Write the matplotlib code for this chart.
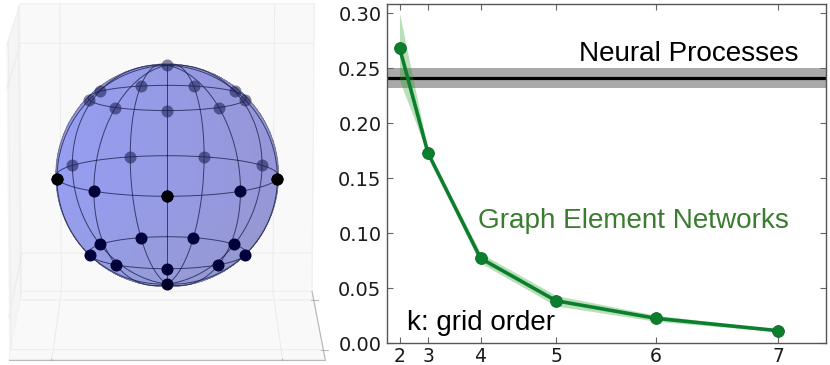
import numpy as np
import matplotlib
matplotlib.use("Agg")
import matplotlib.pyplot as plt
from mpl_toolkits.mplot3d import Axes3D  # noqa

# ---- data: line chart
k_labels = ["2", "3", "4", "5", "6", "7"]
k_positions = [12.5, 41, 93.5, 169, 269, 391]
gen_mean = [0.2688, 0.1730, 0.0773, 0.0387, 0.0227, 0.0115]
gen_low = [0.2390, 0.1715, 0.0730, 0.0340, 0.0200, 0.0105]
gen_high = [0.3000, 0.1750, 0.0820, 0.0435, 0.0255, 0.0125]
np_mean = 0.241
np_low = 0.232
np_high = 0.250
y_ticks = [0.00, 0.05, 0.10, 0.15, 0.20, 0.25, 0.30]

# ---- data: sphere grid
node_lats = [-45, 0, 45]
node_lons = [-160, -120, -80, -40, 0, 40, 80, 120, 160]
pole_lats = [-90, 90]

W, H = 830, 365
fig = plt.figure(figsize=(W / 100, H / 100), dpi=100, facecolor="white")
SANS = "Liberation Sans"
GREEN = "#0b7f2e"


def to_xyz(lat, lon, r=1.0):
    la, lo = np.radians(lat), np.radians(lon)
    # lon 0 faces the viewer (towards -y)
    return r * np.cos(la) * np.sin(lo), -r * np.cos(la) * np.cos(lo), r * np.sin(la)


# ---- left panel, 3D sphere
ELEV, AZIM = 10.5, -90
ax3 = fig.add_axes([-0.0425, -0.095, 0.475, 1.2], projection="3d", computed_zorder=False)
ax3.patch.set_alpha(0)
ax3.view_init(elev=ELEV, azim=AZIM)
ax3.set_proj_type("persp", focal_length=1.6)
ax3.set_box_aspect((1, 1, 1), zoom=1.3)
B = 1.37
ax3.set_xlim(-B, B)
ax3.set_ylim(-B, B)
ax3.set_zlim(-B, B)
ax3.set_xticks([-1, 1])
ax3.set_yticks([-1, 1])
ax3.set_zticks([-1, 1])
ax3.set_xticklabels([])
ax3.set_yticklabels([])
ax3.set_zticklabels([])
ax3.zaxis.set_ticks_position("none")
for axis, col in ((ax3.xaxis, (0.96, 0.96, 0.96, 1)), (ax3.yaxis, (0.975, 0.975, 0.975, 1)), (ax3.zaxis, (0.975, 0.975, 0.975, 1))):
    axis.set_pane_color(col)
    axis.pane.set_edgecolor((0.94, 0.94, 0.94, 1))
    axis.line.set_color("#b8b8b8")
    axis.line.set_linewidth(0.8)
    axis._axinfo["grid"].update(color="#ebebeb", linewidth=0.7)
    axis._axinfo["tick"].update(linewidth={True: 0.5, False: 0.3})
    axis.set_tick_params(color="#999999", width=0.5)

# sphere: only the hemisphere facing the viewer
e = np.radians(ELEV)
view = np.array([0, -np.cos(e), np.sin(e)])
up = np.array([0, np.sin(e), np.cos(e)])
right = np.array([1, 0, 0])
t = np.linspace(0, 2 * np.pi, 121)
a = np.linspace(0, np.pi / 2, 40)
T, A = np.meshgrid(t, a)
SX = np.sin(A) * np.cos(T) * right[0] + np.sin(A) * np.sin(T) * up[0] + np.cos(A) * view[0]
SY = np.sin(A) * np.cos(T) * right[1] + np.sin(A) * np.sin(T) * up[1] + np.cos(A) * view[1]
SZ = np.sin(A) * np.cos(T) * right[2] + np.sin(A) * np.sin(T) * up[2] + np.cos(A) * view[2]
shade = 0.5 * (SX + 1)
fc = np.zeros(SX.shape + (4,))
fc[..., 0] = 0.59
fc[..., 1] = 0.62 - 0.03 * shade
fc[..., 2] = 0.95 - 0.11 * shade - 0.06 * np.clip(-SZ, 0, 1)
fc[..., 3] = 1.0
ax3.plot_surface(SX, SY, SZ, facecolors=fc, rstride=1, cstride=1, linewidth=0, antialiased=False, shade=False, zorder=1)
rim = np.linspace(0, 2 * np.pi, 200)
ax3.plot(np.cos(rim) * right[0] + np.sin(rim) * up[0], np.cos(rim) * right[1] + np.sin(rim) * up[1],
         np.cos(rim) * right[2] + np.sin(rim) * up[2], color="#7a7a98", lw=0.9, zorder=1.5)

all_lat, all_lon = np.meshgrid(node_lats, node_lons, indexing="ij")
all_lat, all_lon = all_lat.ravel(), all_lon.ravel()
is_front = (all_lat < 0) | ((all_lat == 0) & (np.abs(all_lon) <= 80))
bx, by, bz = to_xyz(all_lat[~is_front], all_lon[~is_front])
ax3.scatter(bx, by, bz, s=75, c="#05053a", alpha=0.48, linewidths=0, depthshade=False, zorder=2)
px, py, pz = to_xyz(pole_lats[1], 0)
ax3.scatter([px], [py], [pz], s=75, c="#05053a", alpha=0.48, linewidths=0, depthshade=False, zorder=2)

# mesh lines
line_kw = dict(color="#1c2450", lw=0.7, alpha=0.8, zorder=3)
phi = np.linspace(-90, 90, 91)
for lon in node_lons:
    ax3.plot(*to_xyz(phi, np.full_like(phi, lon)), **line_kw)
lam = np.linspace(-180, 180, 181)
for lat in node_lats:
    ax3.plot(*to_xyz(np.full_like(lam, lat), lam), **line_kw)

fx, fy, fz = to_xyz(all_lat[is_front], all_lon[is_front])
ax3.scatter(fx, fy, fz, s=75, c="#00003a", linewidths=0, depthshade=False, zorder=4)
cx, cy, cz = to_xyz(0, 0)
ax3.scatter([cx], [cy], [cz], s=75, c="black", linewidths=0, depthshade=False, zorder=5)
ex, ey, ez = to_xyz(np.array([0, 0]), np.array([-80, 80]))
ax3.scatter(ex, ey, ez, s=75, c="black", linewidths=0, depthshade=False, zorder=4)
px, py, pz = to_xyz(pole_lats[0], 0)
ax3.scatter([px], [py], [pz], s=75, c="#00002a", linewidths=0, depthshade=False, zorder=5)

# ---- right panel
L, R, T_, Bm = 387, 826, 4, 343.3
ax = fig.add_axes([L / W, 1 - Bm / H, (R - L) / W, (Bm - T_) / H])
ax.set_xlim(0, R - L)
ax.set_ylim(0, (Bm - T_) / 1100)
ax.axhspan(np_low, np_high, color="#a9a9a9", lw=0, zorder=1)
ax.axhline(np_mean, color="black", lw=2.3, zorder=2)
ax.fill_between(k_positions, gen_low, gen_high, color="#2ca02c", alpha=0.33, lw=0, zorder=3)
ax.plot(k_positions, gen_mean, color=GREEN, lw=2.6, marker="o", ms=8.5, mfc=GREEN, mec="#0a6a28", mew=0.6, zorder=4)
ax.set_xticks(k_positions)
ax.set_xticklabels(k_labels)
ax.set_yticks(y_ticks)
ax.set_yticklabels([f"{v:.2f}" for v in y_ticks])
ax.tick_params(direction="in", top=True, right=True, length=4, width=0.8, color="#666666", labelsize=14, labelcolor="#1a1a1a", pad=4)
ax.tick_params(axis="x", labelsize=13.5, pad=2.5)
for s in ax.spines.values():
    s.set_color("#555555")
    s.set_linewidth(1.0)
ax.text(579 - L, 0.2565, "Neural Processes", family=SANS, fontsize=20.1, color="black", va="baseline", ha="left")
ax.text(478 - L, 0.1045, "Graph Element Networks", family=SANS, fontsize=20.1, color="#3a7d30", va="baseline", ha="left")
ax.text(407 - L, 0.0125, "k: grid order", family=SANS, fontsize=20, color="black", va="baseline", ha="left")

fig.savefig("out.png", dpi=100)
